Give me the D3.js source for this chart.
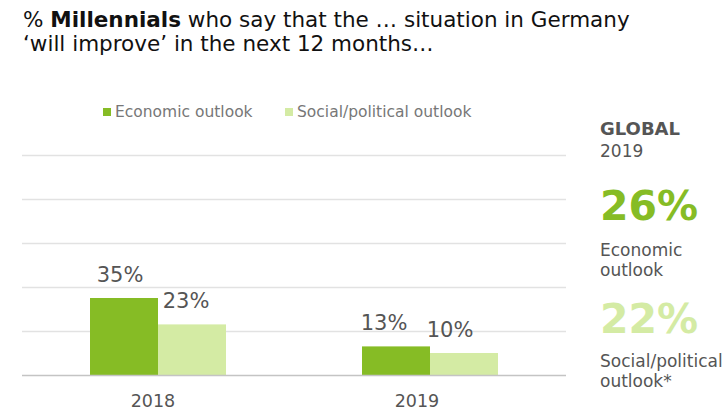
<!DOCTYPE html>
<html>
<head>
<meta charset="utf-8">
<script src="https://cdn.jsdelivr.net/npm/d3@7"></script>
<style>
  html, body { margin: 0; padding: 0; background: #fff; }
  svg { display: block; font-family: "DejaVu Sans", Verdana, sans-serif; }
</style>
</head>
<body>
<svg id="chart" width="727" height="411"></svg>
<script>
const categories = ["2018", "2019"];
const seriesNames = ["Economic outlook", "Social/political outlook"];
const economic = [35, 13];
const social = [23, 10];
const yTicks = [0, 20, 40, 60, 80, 100];
const globalYear = "2019";
const globalValues = [26, 22];
const globalLabels = [["Economic", "outlook"], ["Social/political", "outlook*"]];

const colors = ["#86bc25", "#d4eba4"];
const svg = d3.select("#chart");

// Title
const title = svg.append("text").attr("x", 23).attr("y", 26.5)
  .attr("font-size", 21.5).attr("fill", "#111");
title.append("tspan").text("% ");
title.append("tspan").attr("font-weight", "bold").text("Millennials");
title.append("tspan").text(" who say that the … situation in Germany");
svg.append("text").attr("x", 23).attr("y", 50.5)
  .attr("font-size", 21.5).attr("fill", "#111")
  .text("‘will improve’ in the next 12 months…");

// Scales
const x = d3.scaleBand().domain(categories).range([22, 566]).paddingInner(0.5).paddingOuter(0.25);
const xSub = d3.scaleBand().domain(seriesNames).range([0, x.bandwidth()]);
const xLabel = d3.scaleBand().domain(categories).range([21, 549]);
const y = d3.scaleLinear().domain([0, 100]).range([375, 155]);

// Gridlines
svg.append("g").selectAll("line").data(yTicks.slice(1)).join("line")
  .attr("x1", 22).attr("x2", 566)
  .attr("y1", d => Math.round(y(d)) + 0.5).attr("y2", d => Math.round(y(d)) + 0.5)
  .attr("stroke", "#e2e2e2").attr("stroke-width", 1.3);

// Bars
const data = categories.map((c, i) => ({ cat: c, vals: [economic[i], social[i]] }));
const groups = svg.append("g").selectAll("g").data(data).join("g")
  .attr("transform", d => `translate(${x(d.cat)},0)`);
groups.selectAll("rect").data(d => d.vals.map((v, j) => ({ v, s: seriesNames[j], j })))
  .join("rect")
  .attr("x", d => xSub(d.s)).attr("width", xSub.bandwidth())
  .attr("y", d => y(d.v)).attr("height", d => y(0) - y(d.v))
  .attr("fill", d => colors[d.j]);

// Baseline
svg.append("line").attr("x1", 22).attr("x2", 566)
  .attr("y1", y(0) + 0.5).attr("y2", y(0) + 0.5)
  .attr("stroke", "#c4c4c4").attr("stroke-width", 1.5);

// Value labels
data.forEach(d => {
  d.vals.forEach((v, j) => {
    svg.append("text")
      .attr("x", xLabel(d.cat) + xLabel.bandwidth() / 2 + (j === 0 ? -33 : 33))
      .attr("y", y(v) - 16)
      .attr("text-anchor", "middle").attr("font-size", 21).attr("fill", "#555")
      .text(v + "%");
  });
});

// X axis labels
svg.append("g").selectAll("text").data(categories).join("text")
  .attr("x", d => xLabel(d) + xLabel.bandwidth() / 2)
  .attr("y", 407).attr("text-anchor", "middle")
  .attr("font-size", 17.5).attr("fill", "#555").text(d => d);

// Legend
const legX = [103, 285];
seriesNames.forEach((s, i) => {
  svg.append("rect").attr("x", legX[i]).attr("y", 108).attr("width", 8).attr("height", 8)
    .attr("fill", colors[i]);
  svg.append("text").attr("x", legX[i] + 12).attr("y", 117)
    .attr("font-size", 15.5).attr("fill", "#777").text(s);
});

// Right panel
svg.append("text").attr("x", 600).attr("y", 135).attr("font-size", 18)
  .attr("font-weight", "bold").attr("fill", "#555").text("GLOBAL");
svg.append("text").attr("x", 600).attr("y", 157).attr("font-size", 17)
  .attr("fill", "#555").text(globalYear);
const gY = [220, 333];
const lY = [256, 367];
globalValues.forEach((v, i) => {
  svg.append("text").attr("x", 600).attr("y", gY[i]).attr("font-size", 41)
    .attr("font-weight", "bold").attr("fill", colors[i]).text(v + "%");
  globalLabels[i].forEach((t, k) => {
    svg.append("text").attr("x", 600).attr("y", lY[i] + k * 20).attr("font-size", 17)
      .attr("fill", "#555").text(t);
  });
});
</script>
</body>
</html>
